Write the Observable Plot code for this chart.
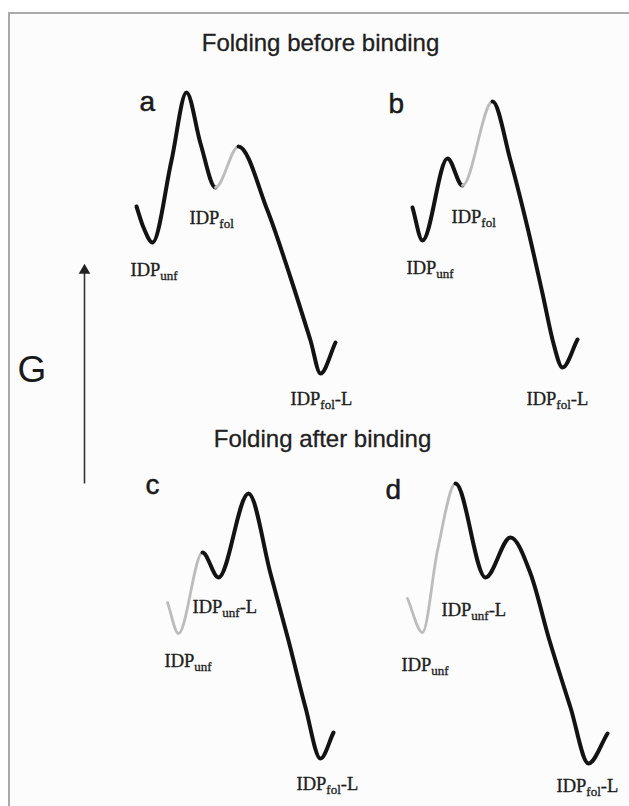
<!DOCTYPE html>
<html>
<head>
<meta charset="utf-8">
<script src="https://cdn.jsdelivr.net/npm/d3@7"></script>
<script src="https://cdn.jsdelivr.net/npm/@observablehq/plot@0.6"></script>
<style>
  html, body { margin: 0; padding: 0; background: #ffffff; }
  #wrap { position: relative; width: 629px; height: 806px; overflow: hidden; }
  #frame { position: absolute; left: 8px; top: 12px; right: 0; bottom: 0;
           border-top: 2px solid #aaaaaa; border-left: 2px solid #aaaaaa; background: #fcfcfc; }
  #chart { position: absolute; left: 0; top: 0; }
</style>
</head>
<body>
<div id="wrap"><div id="frame"></div><div id="chart"></div></div>
<script>
// ---- Data: reaction coordinate (x) and free energy G (up) ----
const aX = [136, 143, 152, 171, 186, 200, 215, 238, 267, 290, 310, 320, 335];
const aG = [600, 579, 564, 646, 714, 663, 619, 660, 596, 529, 466, 433, 464];
const bX = [412, 422, 447, 462, 492, 510, 527, 542, 553, 562, 577];
const bG = [599, 566, 648, 621, 705, 646, 579, 513, 463, 439, 467];
const cX = [167, 178, 202, 218, 248, 270, 288, 305, 320, 333];
const cG = [204, 173, 254, 229, 313, 233, 166, 99, 48, 74];
const dX = [407, 422, 437, 455, 485, 510, 530, 549, 570, 588, 607];
const dG = [208, 174, 256, 323, 229, 269, 233, 166, 99, 43, 73];

// state labels
const labelText = ["IDP_fol", "IDP_unf", "IDP_fol-L",
                   "IDP_fol", "IDP_unf", "IDP_fol-L",
                   "IDP_unf-L", "IDP_unf", "IDP_fol-L",
                   "IDP_unf-L", "IDP_unf", "IDP_fol-L"];
const labelX = [189, 130, 290, 451, 406, 526, 192, 164, 296, 441, 401, 556];
const labelG = [583, 531, 402, 584, 533, 402, 194, 140, 17, 191, 136, 15];

// panel letters
const panelText = ["a", "b", "c", "d"];
const panelX = [139, 388, 145, 385];
const panelG = [696, 694, 313, 308];

// section titles
const titleText = ["Folding before binding", "Folding after binding"];
const titleX = [320, 322];
const titleG = [756, 360];

// G axis arrow
const arrowX = [84];
const arrowG1 = [323];
const arrowG2 = [540];
const arrowLabel = "G";
const arrowLabelX = [17];
const arrowLabelG = [425];

// ---- which stretch of each profile is drawn grey (indices into the arrays) ----
const panels = [
  {X: aX, G: aG, grey: [6, 7]},
  {X: bX, G: bG, grey: [3, 4]},
  {X: cX, G: cG, grey: [0, 2]},
  {X: dX, G: dG, grey: [0, 3]}
];

// Hermite curve: zero slope at every extremum, finite-difference slope elsewhere;
// draws only the points from..to of the series while using the whole series for slopes.
function runCurve(from, to) {
  return function (context) {
    let xs, ys;
    return {
      areaStart() {}, areaEnd() {},
      lineStart() { xs = []; ys = []; },
      point(x, y) { xs.push(+x); ys.push(+y); },
      lineEnd() {
        const n = xs.length;
        if (n < 2) return;
        const t = new Array(n);
        for (let i = 0; i < n; i++) {
          if (i === 0) t[i] = (ys[1] - ys[0]) / (xs[1] - xs[0]);
          else if (i === n - 1) t[i] = (ys[n - 1] - ys[n - 2]) / (xs[n - 1] - xs[n - 2]);
          else {
            const a = ys[i] - ys[i - 1], b = ys[i + 1] - ys[i];
            t[i] = a * b <= 0 ? 0 : (ys[i + 1] - ys[i - 1]) / (xs[i + 1] - xs[i - 1]);
          }
        }
        const lo = Math.max(0, from), hi = Math.min(n - 1, to);
        context.moveTo(xs[lo], ys[lo]);
        for (let i = lo; i < hi; i++) {
          const h = (xs[i + 1] - xs[i]) / 3;
          context.bezierCurveTo(xs[i] + h, ys[i] + t[i] * h,
                                xs[i + 1] - h, ys[i + 1] - t[i + 1] * h,
                                xs[i + 1], ys[i + 1]);
        }
      }
    };
  };
}

const BLACK = "#131313", GREY = "#bcbcbc";
const lineMarks = [];
for (const p of panels) {
  const data = p.X.map((x, i) => ({x, G: p.G[i]}));
  const n = data.length;
  const [g0, g1] = p.grey;
  const runs = [];
  if (g0 > 0) runs.push([0, g0, BLACK]);
  runs.push([g0, g1, GREY]);
  if (g1 < n - 1) runs.push([g1, n - 1, BLACK]);
  for (const [f, t, c] of runs) {
    lineMarks.push(Plot.line(data, {
      x: "x", y: "G", curve: runCurve(f, t),
      stroke: c, strokeWidth: c === GREY ? 2.8 : 4,
      strokeLinecap: "round", strokeLinejoin: "round"
    }));
  }
}

const labels = labelText.map((s, i) => ({s, x: labelX[i], G: labelG[i]}));
const letters = panelText.map((s, i) => ({s, x: panelX[i], G: panelG[i]}));
const titles = titleText.map((s, i) => ({s, x: titleX[i], G: titleG[i]}));
const arrows = arrowX.map((x, i) => ({x, G1: arrowG1[i], G2: arrowG2[i]}));

const chart = Plot.plot({
  width: 629, height: 806, margin: 0,
  x: {domain: [0, 629], axis: null},
  y: {domain: [0, 806], axis: null},
  style: {background: "transparent", overflow: "visible"},
  marks: [
    ...lineMarks,
    Plot.link(arrows, {x1: "x", x2: "x", y1: "G1", y2: "G2", stroke: "#333", strokeWidth: 1.6}),
    Plot.dot(arrows, {x: "x", y: "G2", symbol: "triangle", r: 4.3, fill: "#222", stroke: "none", dy: 4}),
    Plot.text([{s: arrowLabel, x: arrowLabelX[0], G: arrowLabelG[0]}], {
      x: "x", y: "G", text: "s", textAnchor: "start", lineAnchor: "bottom",
      fontFamily: "Liberation Sans", fontSize: 37, fill: "#1a1a1a"
    }),
    Plot.text(titles, {
      x: "x", y: "G", text: "s", textAnchor: "middle", lineAnchor: "bottom",
      fontFamily: "Liberation Sans", fontSize: 24, fill: "#202020", stroke: "#202020", strokeWidth: 0.3
    }),
    Plot.text(letters, {
      x: "x", y: "G", text: "s", textAnchor: "start", lineAnchor: "bottom",
      fontFamily: "Liberation Sans", fontSize: 28, fill: "#1a1a1a", stroke: "#1a1a1a", strokeWidth: 0.5
    }),
    Plot.text(labels, {
      x: "x", y: "G", text: "s", textAnchor: "start", lineAnchor: "bottom",
      fontFamily: "Liberation Serif", fontSize: 18.5, fill: "#1e1e1e", stroke: "#1e1e1e", strokeWidth: 0.35
    })
  ]
});

// turn "IDP_sub-rest" into a subscript layout
d3.select(chart).selectAll("text").each(function () {
  const s = this.textContent;
  const k = s.indexOf("_");
  if (k < 0) return;
  const main = s.slice(0, k);
  const restAll = s.slice(k + 1);
  const m = restAll.indexOf("-");
  const sub = m < 0 ? restAll : restAll.slice(0, m);
  const rest = m < 0 ? "" : restAll.slice(m);
  const el = d3.select(this);
  el.text(null);
  el.append("tspan").text(main);
  el.append("tspan").attr("font-size", 13).attr("dy", 4).text(sub);
  if (rest) el.append("tspan").attr("dy", -4).text(rest);
});

document.getElementById("chart").appendChild(chart);
</script>
</body>
</html>
